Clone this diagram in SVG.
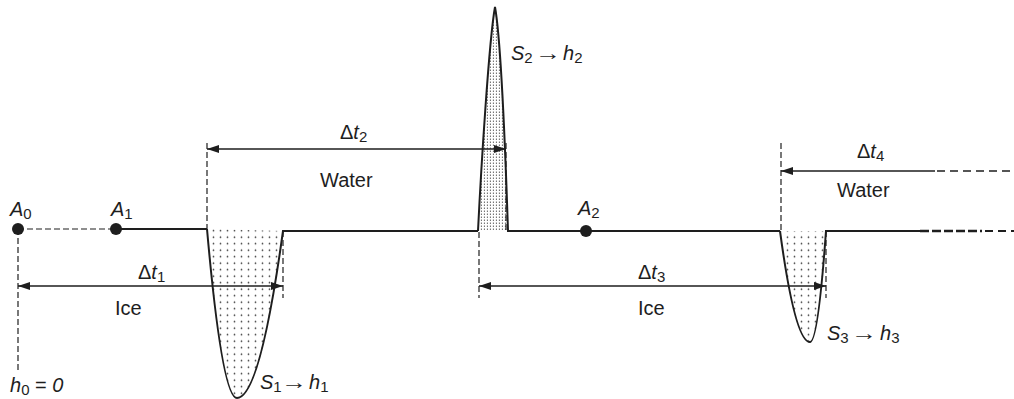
<svg xmlns="http://www.w3.org/2000/svg" width="1014" height="399" viewBox="0 0 1014 399">
<style>
  text { font-family: "Liberation Sans", Arial, sans-serif; font-size: 20px; fill: #1e1e1e; }
  .it { font-style: italic; }
  .sub { font-size: 15px; font-style: normal; }
  .base { fill: none; stroke: #1e1e1e; stroke-width: 2; }
  .curve { fill: none; stroke: #1e1e1e; stroke-width: 2; }
  .dash { fill: none; stroke: #1e1e1e; stroke-width: 1.2; stroke-dasharray: 6 3; }
  .arr { fill: none; stroke: #1e1e1e; stroke-width: 1.4; }
  .dot { fill: #1e1e1e; }
</style>
<defs>
  <marker id="ah" viewBox="0 0 12 8" refX="12" refY="4" markerWidth="12" markerHeight="8" markerUnits="userSpaceOnUse" orient="auto-start-reverse">
    <path d="M0,0 L12,4 L0,8 Z" fill="#1e1e1e"/>
  </marker>
  <pattern id="dots" width="7" height="6.5" patternUnits="userSpaceOnUse">
    <circle cx="3.5" cy="3.2" r="0.85" fill="#333"/>
  </pattern>
  <pattern id="vdots" width="3" height="3" patternUnits="userSpaceOnUse">
    <rect x="0.9" y="0.5" width="0.9" height="1.5" fill="#555"/>
  </pattern>
</defs>

<g id="fills">
  <path d="M207,229 Q222,398 237,398 Q260,398 283,231 Z" fill="url(#dots)"/>
  <path d="M478,231 C481,170 489,40 495,7 C501,40 506,170 508,231 Z" fill="url(#vdots)"/>
  <path d="M780,231 Q795,342 810,342 Q818,342 826,231 Z" fill="url(#dots)"/>
</g>

<g id="connectors">
  <line x1="18" y1="229" x2="116" y2="229" class="dash" stroke-dasharray="6 4"/>
  <polyline class="base" points="116,229 207,229"/>
  <path class="curve" d="M207,229 Q222,398 237,398 Q260,398 283,231 L478,231"/>
  <path class="curve" d="M478,231 C481,170 489,40 495,7 C501,40 506,170 508,231 L780,231"/>
  <path class="curve" d="M780,231 Q795,342 810,342 Q818,342 826,231 L920,231"/>
  <line x1="920" y1="231" x2="982" y2="231" stroke="#1e1e1e" stroke-width="2.4" stroke-dasharray="9 3"/>
  <line x1="985" y1="231" x2="1014" y2="231" stroke="#1e1e1e" stroke-width="2" stroke-dasharray="8 5"/>

  <line class="dash" x1="18" y1="229" x2="18" y2="372"/>
  <line class="dash" x1="207" y1="143" x2="207" y2="229"/>
  <line class="dash" x1="283" y1="231" x2="283" y2="298"/>
  <line class="dash" x1="479" y1="232" x2="479" y2="298"/>
  <line class="dash" x1="506" y1="143" x2="506" y2="231"/>
  <line class="dash" x1="781" y1="143" x2="781" y2="231"/>
  <line class="dash" x1="826" y1="231" x2="826" y2="298"/>

  <line class="arr" x1="18" y1="286" x2="283" y2="286" marker-start="url(#ah)" marker-end="url(#ah)"/>
  <line class="arr" x1="207" y1="149" x2="506" y2="149" marker-start="url(#ah)" marker-end="url(#ah)"/>
  <line class="arr" x1="479" y1="286" x2="826" y2="286" marker-start="url(#ah)" marker-end="url(#ah)"/>
  <line class="arr" x1="781" y1="171" x2="935" y2="171" marker-start="url(#ah)"/>
  <line class="arr" x1="937" y1="171" x2="1014" y2="171" stroke-dasharray="8 5"/>
</g>

<g id="A0">
  <circle class="dot" cx="18" cy="229" r="6"/>
  <text x="10" y="216" class="it">A<tspan class="sub" dy="3">0</tspan></text>
</g>
<g id="A1">
  <circle class="dot" cx="116" cy="229" r="6"/>
  <text x="111" y="216" class="it">A<tspan class="sub" dy="3">1</tspan></text>
</g>
<g id="A2">
  <circle class="dot" cx="586" cy="231" r="6"/>
  <text x="578" y="215" class="it">A<tspan class="sub" dy="3">2</tspan></text>
</g>
<g id="h0">
  <text x="10" y="392"><tspan class="it">h</tspan><tspan class="sub" dy="3">0</tspan><tspan dy="-3"> = </tspan><tspan class="it">0</tspan></text>
</g>
<g id="dt1">
  <text x="138" y="279">Δ<tspan class="it">t</tspan><tspan class="sub" dy="3">1</tspan></text>
  <text x="115" y="315">Ice</text>
</g>
<g id="dt2">
  <text x="340" y="139">Δ<tspan class="it">t</tspan><tspan class="sub" dy="3">2</tspan></text>
  <text x="320" y="187">Water</text>
</g>
<g id="dt3">
  <text x="638" y="279">Δ<tspan class="it">t</tspan><tspan class="sub" dy="3">3</tspan></text>
  <text x="638" y="315">Ice</text>
</g>
<g id="dt4">
  <text x="857" y="158">Δ<tspan class="it">t</tspan><tspan class="sub" dy="3">4</tspan></text>
  <text x="837" y="197">Water</text>
</g>
<g id="S1">
  <text x="260" y="389"><tspan class="it">S</tspan><tspan class="sub" dy="3">1</tspan></text>
  <text transform="translate(281,389) scale(1.3,1)">→</text>
  <text x="309" y="389" class="it">h<tspan class="sub" dy="3">1</tspan></text>
</g>
<g id="S2">
  <text x="511" y="60"><tspan class="it">S</tspan><tspan class="sub" dy="3">2</tspan></text>
  <text transform="translate(535,60) scale(1.3,1)">→</text>
  <text x="563" y="60" class="it">h<tspan class="sub" dy="3">2</tspan></text>
</g>
<g id="S3">
  <text x="827" y="340"><tspan class="it">S</tspan><tspan class="sub" dy="3">3</tspan></text>
  <text transform="translate(851,340) scale(1.3,1)">→</text>
  <text x="880" y="340" class="it">h<tspan class="sub" dy="3">3</tspan></text>
</g>
</svg>
